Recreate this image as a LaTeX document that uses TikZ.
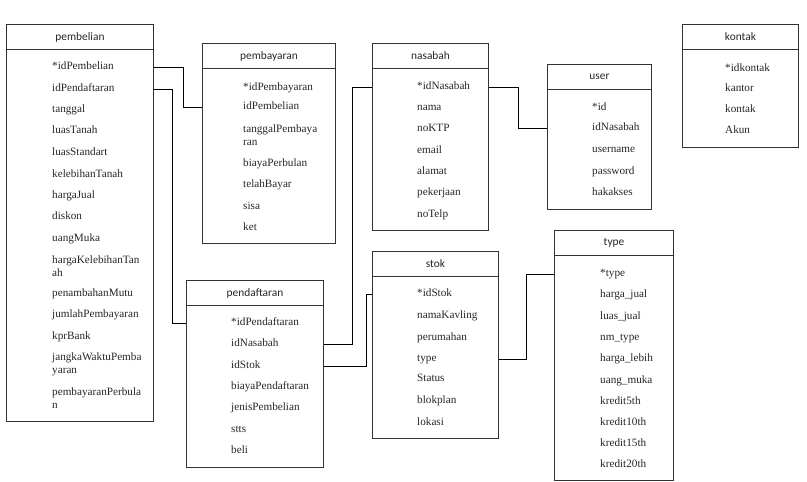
\documentclass[tikz,border=0pt]{standalone}
\usepackage{fontspec}
\setmainfont{Liberation Serif}
\newfontfamily\hdrfont{Carlito}
\begin{document}
\begin{tikzpicture}[x=1pt,y=-1pt,
  tbox/.style={draw=black!80,line width=1pt,rectangle,anchor=north west,inner sep=0pt},
  thdr/.style={draw=black!80,line width=1pt,rectangle,anchor=north west,inner sep=0pt,minimum height=25,font=\hdrfont\fontsize{11.4}{12}\selectfont,text=black!85},
  trow/.style={anchor=base west,inner sep=0pt,align=left,text height=7.5pt,text depth=2.5pt,font=\fontsize{11.2}{12.5}\selectfont,text=black!85},
  link/.style={draw=black,line width=0.9pt}]
\useasboundingbox (0,0) rectangle (807,482);
% ---------- pembelian
\node[tbox,minimum width=147,minimum height=397] (pembelian) at (6,24) {};
\node[thdr,minimum width=147] (pembelianH) at (6,24) {pembelian};
\foreach \t/\y [count=\i] in {{*idPembelian}/66,{idPendaftaran}/88,{tanggal}/109,{luasTanah}/130,{luasStandart}/152,{kelebihanTanah}/174,{hargaJual}/195,{diskon}/216,{uangMuka}/238,{hargaKelebihanTan\\ah}/272.5,{penambahanMutu}/293,{jumlahPembayaran}/314,{kprBank}/336,{jangkaWaktuPemba\\yaran}/369.5,{pembayaranPerbula\\n}/404.5}
  \node[trow] (pb\i) at (52,\y+3.5) {\t};
% ---------- pembayaran
\node[tbox,minimum width=133,minimum height=200] (pembayaran) at (202,43) {};
\node[thdr,minimum width=133] (pembayaranH) at (202,43) {pembayaran};
\foreach \t/\y [count=\i] in {{*idPembayaran}/87,{idPembelian}/106,{tanggalPembaya\\ran}/141.5,{biayaPerbulan}/163,{telahBayar}/184,{sisa}/206,{ket}/227}
  \node[trow] (py\i) at (243,\y+3.5) {\t};
% ---------- nasabah
\node[tbox,minimum width=116,minimum height=187] (nasabah) at (372,43) {};
\node[thdr,minimum width=116] (nasabahH) at (372,43) {nasabah};
\foreach \t/\y [count=\i] in {{*idNasabah}/86,{nama}/107,{noKTP}/128,{email}/150,{alamat}/171,{pekerjaan}/192,{noTelp}/214}
  \node[trow] (ns\i) at (417,\y+3.5) {\t};
% ---------- user
\node[tbox,minimum width=104,minimum height=145] (user) at (547,64) {};
\node[thdr,minimum width=104] (userH) at (547,64) {user};
\foreach \t/\y [count=\i] in {{*id}/107,{idNasabah}/127,{username}/149,{password}/171,{hakakses}/192}
  \node[trow] (us\i) at (592,\y+3.5) {\t};
% ---------- kontak
\node[tbox,minimum width=116,minimum height=123] (kontak) at (682,24) {};
\node[thdr,minimum width=116] (kontakH) at (682,24) {kontak};
\foreach \t/\y [count=\i] in {{*idkontak}/68,{kantor}/88,{kontak}/109,{Akun}/130}
  \node[trow] (kt\i) at (725,\y+3.5) {\t};
% ---------- pendaftaran
\node[tbox,minimum width=137,minimum height=187] (pendaftaran) at (186,280) {};
\node[thdr,minimum width=137] (pendaftaranH) at (186,280) {pendaftaran};
\foreach \t/\y [count=\i] in {{*idPendaftaran}/322,{idNasabah}/343,{idStok}/365,{biayaPendaftaran}/386,{jenisPembelian}/407,{stts}/429,{beli}/450}
  \node[trow] (pd\i) at (231,\y+3.5) {\t};
% ---------- stok
\node[tbox,minimum width=126,minimum height=187] (stok) at (372,251) {};
\node[thdr,minimum width=126] (stokH) at (372,251) {stok};
\foreach \t/\y [count=\i] in {{*idStok}/293,{namaKavling}/315,{perumahan}/337,{type}/358,{Status}/378,{blokplan}/400,{lokasi}/422}
  \node[trow] (st\i) at (417,\y+3.5) {\t};
% ---------- type
\node[tbox,minimum width=119,minimum height=250] (type) at (554,230) {};
\node[thdr,minimum width=119] (typeH) at (554,230) {type};
\foreach \t/\y [count=\i] in {{*type}/273,{harga\_jual}/294,{luas\_jual}/316,{nm\_type}/337,{harga\_lebih}/358,{uang\_muka}/380,{kredit5th}/401,{kredit10th}/422,{kredit15th}/443,{kredit20th}/464}
  \node[trow] (ty\i) at (600,\y+3.5) {\t};
% ---------- connectors
\draw[link] (pembelian.east |- pb1) -- ++(29,0) |- (pembayaran.west |- py2);
\draw[link] (pembelian.east |- pb2) -- ++(18,0) |- (pendaftaran.west |- pd1);
\draw[link] (nasabah.west |- ns1) -- ++(-20,0) |- (pendaftaran.east |- pd2);
\draw[link] (nasabah.east |- ns1) -- ++(29,0) |- (user.west |- us2);
\draw[link] (stok.west |- st1) -- ++(-6,0) |- (pendaftaran.east |- pd3);
\draw[link] (stok.east |- st4) -- ++(27,0) |- (type.west |- ty1);
\end{tikzpicture}
\end{document}
